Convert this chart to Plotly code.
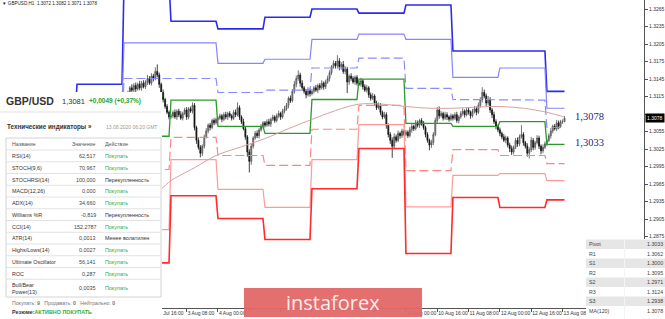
import plotly.graph_objects as go
import pandas as pd

# ---------------- data ----------------
days = ["2020-07-31", "2020-08-03", "2020-08-04", "2020-08-05", "2020-08-06",
        "2020-08-07", "2020-08-10", "2020-08-11", "2020-08-12", "2020-08-13"]

closes_by_day = [
    [1.3108, 1.3114, 1.3120, 1.3130, 1.3126, 1.3134, 1.3128, 1.3136, 1.3130, 1.3138, 1.3132, 1.3140,
     1.3146, 1.3138, 1.3150, 1.3146, 1.3158, 1.3152, 1.3136, 1.3122, 1.3110, 1.3098, 1.3088, 1.3080],
    [1.3082, 1.3088, 1.3080, 1.3090, 1.3084, 1.3078, 1.3086, 1.3092, 1.3080, 1.3094, 1.3090, 1.3100,
     1.3062, 1.3040, 1.3028, 1.3018, 1.3030, 1.3046, 1.3056, 1.3066, 1.3062, 1.3074, 1.3070, 1.3076],
    [1.3078, 1.3082, 1.3076, 1.3084, 1.3080, 1.3086, 1.3082, 1.3078, 1.3088, 1.3084, 1.3096, 1.3080,
     1.3072, 1.3060, 1.3046, 1.3020, 1.3004, 1.3030, 1.3044, 1.3052, 1.3048, 1.3058, 1.3064, 1.3070],
    [1.3066, 1.3072, 1.3068, 1.3076, 1.3080, 1.3074, 1.3082, 1.3086, 1.3080, 1.3090, 1.3094, 1.3100,
     1.3112, 1.3108, 1.3124, 1.3136, 1.3146, 1.3152, 1.3138, 1.3130, 1.3124, 1.3118, 1.3126, 1.3120],
    [1.3124, 1.3130, 1.3126, 1.3134, 1.3130, 1.3138, 1.3132, 1.3140, 1.3146, 1.3156, 1.3166, 1.3172,
     1.3168, 1.3176, 1.3166, 1.3170, 1.3158, 1.3162, 1.3140, 1.3150, 1.3146, 1.3140, 1.3148, 1.3138],
    [1.3136, 1.3142, 1.3132, 1.3126, 1.3130, 1.3118, 1.3112, 1.3116, 1.3104, 1.3096, 1.3100, 1.3088,
     1.3080, 1.3084, 1.3066, 1.3050, 1.3040, 1.3030, 1.3046, 1.3040, 1.3052, 1.3048, 1.3056, 1.3050],
    [1.3054, 1.3048, 1.3058, 1.3064, 1.3060, 1.3070, 1.3066, 1.3074, 1.3068, 1.3062, 1.3050, 1.3040,
     1.3032, 1.3036, 1.3050, 1.3074, 1.3092, 1.3082, 1.3086, 1.3078, 1.3084, 1.3080, 1.3076, 1.3082],
    [1.3078, 1.3084, 1.3074, 1.3080, 1.3086, 1.3090, 1.3084, 1.3092, 1.3088, 1.3082, 1.3090, 1.3094,
     1.3088, 1.3100, 1.3110, 1.3122, 1.3116, 1.3104, 1.3110, 1.3092, 1.3084, 1.3072, 1.3064, 1.3058],
    [1.3052, 1.3046, 1.3040, 1.3044, 1.3032, 1.3026, 1.3020, 1.3028, 1.3040, 1.3034, 1.3046, 1.3050,
     1.3036, 1.3030, 1.3018, 1.3024, 1.3040, 1.3028, 1.3036, 1.3044, 1.3030, 1.3022, 1.3028, 1.3034],
    [1.3040, 1.3048, 1.3056, 1.3064, 1.3060, 1.3070, 1.3064, 1.3072, 1.3072, 1.3078],
]
# wick lengths beyond the candle body, in pips
wick_up_by_day = [
    [3, 4, 5, 3, 6, 4, 5, 3, 6, 4, 5, 3, 6, 4, 5, 4, 7, 12, 4, 3, 5, 3, 4, 3],
    [4, 3, 5, 3, 4, 6, 3, 4, 5, 3, 4, 5, 4, 3, 5, 4, 3, 4, 5, 3, 4, 3, 4, 3],
    [3, 4, 3, 4, 5, 3, 4, 3, 4, 5, 9, 4, 3, 5, 4, 3, 5, 4, 3, 4, 5, 3, 4, 3],
    [3, 4, 5, 3, 4, 3, 4, 5, 3, 4, 5, 4, 3, 5, 4, 6, 5, 8, 4, 5, 3, 4, 5, 3],
    [4, 3, 5, 3, 4, 5, 3, 4, 5, 4, 3, 5, 4, 10, 5, 4, 6, 5, 4, 3, 5, 4, 3, 4],
    [4, 5, 3, 4, 5, 3, 4, 5, 3, 4, 5, 4, 3, 5, 4, 3, 4, 5, 6, 4, 5, 3, 4, 3],
    [4, 3, 5, 4, 3, 5, 4, 3, 4, 5, 3, 4, 3, 5, 4, 5, 5, 6, 4, 3, 5, 4, 3, 4],
    [3, 4, 5, 3, 4, 5, 3, 4, 5, 3, 4, 5, 4, 5, 4, 9, 5, 4, 6, 4, 3, 5, 4, 3],
    [4, 3, 5, 4, 3, 4, 5, 3, 4, 5, 4, 16, 4, 3, 5, 4, 6, 4, 3, 5, 4, 3, 5, 4],
    [3, 4, 5, 3, 4, 5, 4, 3, 4, 4],
]
wick_dn_by_day = [
    [4, 3, 4, 5, 3, 4, 6, 3, 4, 5, 3, 4, 5, 3, 4, 5, 3, 4, 6, 4, 5, 4, 3, 4],
    [3, 4, 3, 5, 4, 3, 4, 3, 5, 4, 3, 4, 5, 6, 4, 7, 5, 4, 3, 4, 5, 3, 4, 3],
    [4, 3, 5, 3, 4, 5, 3, 4, 3, 4, 3, 5, 4, 3, 5, 8, 19, 6, 4, 3, 4, 5, 3, 4],
    [4, 3, 4, 5, 3, 4, 3, 4, 5, 3, 4, 3, 5, 4, 3, 4, 5, 4, 6, 5, 4, 6, 3, 5],
    [3, 4, 3, 5, 4, 3, 5, 4, 3, 5, 4, 3, 5, 4, 6, 5, 4, 5, 19, 5, 4, 3, 5, 4],
    [3, 4, 5, 3, 4, 5, 4, 3, 5, 4, 3, 5, 4, 3, 6, 5, 6, 20, 5, 4, 3, 5, 4, 3],
    [3, 4, 3, 5, 4, 3, 4, 5, 3, 4, 5, 4, 9, 5, 4, 3, 4, 5, 3, 4, 3, 5, 4, 3],
    [4, 3, 4, 5, 3, 4, 5, 3, 4, 5, 3, 4, 5, 3, 4, 5, 4, 6, 4, 5, 6, 4, 5, 4],
    [5, 4, 3, 5, 4, 6, 5, 4, 3, 5, 4, 3, 5, 4, 6, 9, 4, 5, 4, 3, 5, 6, 4, 3],
    [4, 3, 5, 4, 3, 4, 5, 3, 4, 1],
]
first_open = 1.3104

level_days = ["2020-07-29", "2020-07-30", "2020-07-31", "2020-08-03", "2020-08-04", "2020-08-05",
              "2020-08-06", "2020-08-07", "2020-08-10", "2020-08-11", "2020-08-12", "2020-08-13"]
R3 = [1.3080, 1.3136, 1.3310, 1.3244, 1.3231, 1.3251, 1.3265, 1.3258, 1.3272, 1.3193, 1.3193, 1.3124]
R2 = [1.3050, 1.3100, 1.3207, 1.3207, 1.3172, 1.3179, 1.3213, 1.3222, 1.3213, 1.3148, 1.3164, 1.3095]
R1 = [1.3010, 1.3065, 1.3146, 1.3146, 1.3122, 1.3126, 1.3164, 1.3181, 1.3129, 1.3110, 1.3109, 1.3062]
PIVOT = [1.2960, 1.3010, 1.3047, 1.3109, 1.3064, 1.3052, 1.3110, 1.3145, 1.3069, 1.3064, 1.3072, 1.3033]
S1 = [1.2925, 1.2975, 1.2990, 1.3045, 1.3014, 1.2997, 1.3059, 1.3100, 1.2988, 1.3024, 1.3014, 1.3000]
S2 = [1.2875, 1.2920, 1.2887, 1.3007, 1.2956, 1.2925, 1.3007, 1.3067, 1.2926, 1.2980, 1.2983, 1.2971]
S3 = [1.2840, 1.2885, 1.2830, 1.2945, 1.2906, 1.2870, 1.2957, 1.3026, 1.2846, 1.2942, 1.2925, 1.2938]

ma_times = ["2020-07-31 00:00", "2020-07-31 19:00", "2020-08-03 00:00", "2020-08-03 12:00",
            "2020-08-03 23:00", "2020-08-04 12:00", "2020-08-05 00:00", "2020-08-05 12:00",
            "2020-08-06 00:00", "2020-08-06 12:00", "2020-08-07 00:00", "2020-08-07 12:00",
            "2020-08-10 00:00", "2020-08-10 12:00", "2020-08-11 00:00", "2020-08-11 12:00",
            "2020-08-12 00:00", "2020-08-12 12:00", "2020-08-13 00:00", "2020-08-13 09:00"]
ma_values = [1.2928, 1.2957, 1.2971, 1.2993, 1.3014, 1.3029, 1.3043, 1.3060, 1.3076, 1.3091,
             1.3102, 1.3102, 1.3098, 1.3095, 1.3095, 1.3097, 1.3098, 1.3095, 1.3088, 1.3080]

tick_times = ["2020-07-31 16:00", "2020-08-03 08:00", "2020-08-04 00:00", "2020-08-04 16:00",
              "2020-08-05 08:00", "2020-08-06 00:00", "2020-08-06 16:00", "2020-08-07 08:00",
              "2020-08-10 00:00", "2020-08-10 16:00", "2020-08-11 08:00", "2020-08-12 00:00",
              "2020-08-12 16:00", "2020-08-13 08:00"]
# labels fully covered by the watermark are left blank (they are not visible in the reference)
tick_labels = ["31 Jul 16:00", "3 Aug 08:00", "4 Aug 00:00", "", "", "", "", "",
               "10 Aug 00:00", "10 Aug 16:00", "11 Aug 08:00", "12 Aug 00:00",
               "12 Aug 16:00", "13 Aug 08:00"]
ytick_values = [1.2875, 1.2905, 1.2935, 1.2965, 1.2995, 1.3025, 1.3055, 1.3085, 1.3115,
                1.3145, 1.3175, 1.3205, 1.3235, 1.3265]
# 1.3085 sits under the current-price tag in the reference
ytick_labels = ["1.2875", "1.2905", "1.2935", "1.2965", "1.2995", "1.3025", "1.3055", "",
                "1.3115", "1.3145", "1.3175", "1.3205", "1.3235", "1.3265"]

ind_names = ["RSI(14)", "STOCH(9,6)", "STOCHRSI(14)", "MACD(12,26)", "ADX(14)", "Williams %R",
             "CCI(14)", "ATR(14)", "Highs/Lows(14)", "Ultimate Oscillator", "ROC", "Bull/Bear<br>Power(13)"]
ind_values = ["62,517", "70,967", "100,000", "0,000", "34,660", "-0,819", "152,2787", "0,0013",
              "0,0027", "56,141", "0,287", "0,0035"]
ind_actions = ["Покупать", "Покупать", "Перекупленность", "Покупать", "Покупать", "Перекупленность",
               "Покупать", "Менее волатилен", "Покупать", "Покупать", "Покупать", "Покупать"]

pt_labels = ["Pivot", "R1", "S1", "R2", "S2", "R3", "S3", "MA(120)"]
pt_values = ["1.3033", "1.3062", "1.3000", "1.3095", "1.2971", "1.3124", "1.2938", "1.3078"]

last_price = 1.3078

# ---------------- build ----------------
W, H = 665, 319
times, closes, ups, dns = [], [], [], []
for d, cl, wu, wd in zip(days, closes_by_day, wick_up_by_day, wick_dn_by_day):
    base = pd.Timestamp(d)
    for h in range(len(cl)):
        times.append(base + pd.Timedelta(hours=h))
    closes += cl
    ups += wu
    dns += wd
opens = [first_open] + closes[:-1]
highs = [round(max(o, c) + u * 1e-4, 5) for o, c, u in zip(opens, closes, ups)]
lows = [round(min(o, c) - l * 1e-4, 5) for o, c, l in zip(opens, closes, dns)]


def level_xy(vals):
    xs, ys = [], []
    for i, (d, v) in enumerate(zip(level_days, vals)):
        start = pd.Timestamp(d)
        end = start + pd.Timedelta(hours=23) if i < len(level_days) - 1 else times[-1]
        xs += [start, end]
        ys += [v, v]
    return xs, ys


fig = go.Figure()
level_styles = [
    (R3, "#2b2bf0", 1.6, "solid"),
    (R2, "#8585ff", 1.2, "solid"),
    (R1, "#8a8aff", 1.2, "9px,4px"),
    (PIVOT, "#2a9a2a", 1.3, "solid"),
    (S1, "#ff8585", 1.2, "9px,4px"),
    (S2, "#ff9a9a", 1.2, "solid"),
    (S3, "#ff2a2a", 1.6, "solid"),
]
for vals, col, wdt, dash in level_styles:
    xs, ys = level_xy(vals)
    fig.add_trace(go.Scatter(x=xs, y=ys, mode="lines", line=dict(color=col, width=wdt, dash=dash),
                             hoverinfo="skip", showlegend=False))

fig.add_trace(go.Scatter(x=pd.to_datetime(ma_times), y=ma_values, mode="lines",
                         line=dict(color="#d9a2a2", width=1, shape="spline"),
                         hoverinfo="skip", showlegend=False))

fig.add_trace(go.Candlestick(
    x=times, open=opens, high=highs, low=lows, close=closes,
    increasing=dict(line=dict(color="#505050", width=0.8), fillcolor="#a0a0a0"),
    decreasing=dict(line=dict(color="#111111", width=0.8), fillcolor="#111111"),
    whiskerwidth=0, showlegend=False, hoverinfo="skip"))


def px(x):
    return x / W


def py(y):
    return 1 - y / H


shapes = []
annotations = []


def rect(x0, y0, x1, y1, fill, line=None, lw=0, opacity=1):
    shapes.append(dict(type="rect", xref="paper", yref="paper", x0=px(x0), x1=px(x1),
                       y0=py(y1), y1=py(y0), fillcolor=fill, opacity=opacity, layer="above",
                       line=dict(color=line or fill, width=lw)))


def hline(x0, x1, y, color="#dcdcdc"):
    shapes.append(dict(type="line", xref="paper", yref="paper", x0=px(x0), x1=px(x1),
                       y0=py(y), y1=py(y), layer="above", line=dict(color=color, width=1)))


def txt(x, y, s, size=5.5, color="#333", anchor="left", family="Liberation Sans, Arial, sans-serif"):
    annotations.append(dict(x=px(x), y=py(y), xref="paper", yref="paper", text=s, showarrow=False,
                            xanchor=anchor, yanchor="middle", borderpad=0,
                            align=anchor if anchor != "center" else "center",
                            font=dict(size=size, color=color, family=family)))


# left panel
rect(0, 92, 162, 319, "white")
hline(0, 161, 112, "#e0e0e0")
rect(6, 138, 161, 297, "white", "#d4d4d4", 1)
for i in range(12):
    hline(6, 161, 150 + i * 11.75, "#e2e2e2")
txt(5, 101, "<b>GBP/USD</b>", 10.5, "#333")
txt(61, 101, "1,3081", 7.5, "#333")
txt(88, 101, "<b>+0,0049 (+0,37%)</b>", 6.5, "#2ea02e")
txt(6, 127, "<b>Технические индикаторы »</b>", 6.3, "#333")
txt(105, 127, "13.08.2020 06:20 GMT", 5, "#999")
txt(11, 144, "Название", 5.3, "#555")
txt(97, 144, "Значение", 5.3, "#555", "right")
txt(104, 144, "Действие", 5.3, "#555")
for i, (n, v, a) in enumerate(zip(ind_names, ind_values, ind_actions)):
    yc = 156 + i * 11.75 if i < len(ind_names) - 1 else 288
    txt(11, yc, n, 5.4, "#333")
    txt(97, yc, v, 5.4, "#444", "right")
    txt(104, yc, a, 5.4, "#3aaa3a" if a == "Покупать" else "#333")
txt(11, 303, "Покупать: <b>9</b>   Продавать: <b>0</b>   Нейтрально: <b>0</b>", 5.2, "#777")
txt(11, 312, "<b>Резюме:</b><b><span style='color:#3aaa3a'>АКТИВНО ПОКУПАТЬ</span></b>", 5.4, "#333")

# top-left symbol header
txt(1, 4, "▼ GBPUSD,H1  1.3072 1.3082 1.3071 1.3078", 4.6, "#222")

# price labels drawn on chart
txt(574, 116, "1,3078", 10.5, "#1f1f78", family="Liberation Serif, Times New Roman, serif")
txt(574, 142, "1,3033", 10.5, "#1f1f78", family="Liberation Serif, Times New Roman, serif")

# current price tag on axis
annotations.append(dict(x=px(645), y=last_price, xref="paper", yref="y", text="1.3078",
                        showarrow=False, xanchor="left", yanchor="middle", bgcolor="#000",
                        borderpad=1, font=dict(size=5, color="white", family="Liberation Sans")))

# bottom-right pivot table
rect(586, 239, 665, 319, "white")
for i, (lab, val) in enumerate(zip(pt_labels, pt_values)):
    y0 = 239.5 + i * 9.5
    if i % 2 == 0:
        rect(586, y0, 665, y0 + 9.5, "#e6e6e6")
    txt(588, y0 + 4.8, lab, 5.3, "#444")
    txt(664, y0 + 4.8, val, 5.3, "#444", "right")
shapes.append(dict(type="line", xref="paper", yref="paper", x0=px(624.5), x1=px(624.5),
                   y0=py(319), y1=py(239), layer="above", line=dict(color="#f4f4f4", width=1)))

# watermark
rect(244, 288, 422, 317, "#e16767", opacity=0.95)
txt(333, 302, "instaforex", 20, "#fbecec", "center", "Open Sans, DejaVu Sans, sans-serif")

fig.update_layout(
    width=W, height=H, margin=dict(l=0, r=0, t=0, b=0),
    paper_bgcolor="white", plot_bgcolor="white", showlegend=False, hovermode=False,
    font=dict(family="Liberation Sans, Arial, sans-serif", size=6, color="#333"),
    xaxis=dict(type="date", domain=[0, 644 / W],
               range=["2020-07-28 08:40", "2020-08-17 01:36"],
               rangebreaks=[dict(bounds=["sat", "mon"])],
               rangeslider=dict(visible=False), showgrid=False, zeroline=False,
               showline=True, linecolor="#555", linewidth=1,
               ticks="outside", ticklen=3, tickcolor="#555", tickangle=0,
               tickvals=pd.to_datetime(tick_times), ticktext=tick_labels,
               ticklabelposition="outside right", tickfont=dict(size=5, color="#333")),
    yaxis=dict(domain=[11 / H, 1], range=[1.27527, 1.32805], side="right",
               showgrid=False, zeroline=False, showline=True, linecolor="#555", linewidth=1,
               ticks="outside", ticklen=3, tickcolor="#555",
               tickvals=ytick_values, ticktext=ytick_labels,
               tickfont=dict(size=5, color="#333")),
    shapes=shapes, annotations=annotations,
)

fig.write_html("out.html")
